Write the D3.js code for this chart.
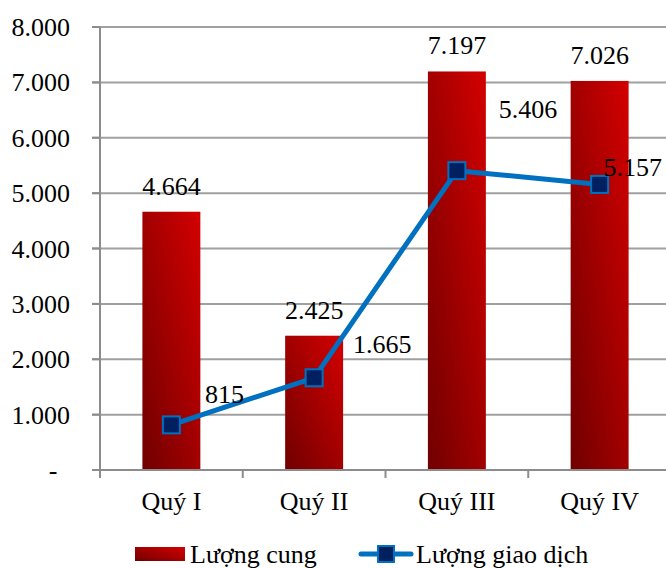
<!DOCTYPE html>
<html><head><meta charset="utf-8">
<script src="https://cdn.jsdelivr.net/npm/d3@7"></script>
<style>body{margin:0;background:#fff}svg{display:block}text{font-family:"Liberation Serif","Times New Roman",serif;fill:#000}</style>
</head><body>
<svg id="c" width="666" height="568"></svg>
<script>
const categories = ["Quý I", "Quý II", "Quý III", "Quý IV"];
const supply = [4664, 2425, 7197, 7026];
const transactions = [815, 1665, 5406, 5157];
const yTicks = [0, 1000, 2000, 3000, 4000, 5000, 6000, 7000, 8000];
const seriesNames = ["Lượng cung", "Lượng giao dịch"];
// label offsets for line values (style, not data)
const lineLabelOffsets = [[53, -22], [68, -25], [71, -53], [33, -8]];

const fmt = v => v === 0 ? "-" : d3.format(",")(v).replace(/,/g, ".");
const svg = d3.select("#c");
const defs = svg.append("defs");
const g1 = defs.append("linearGradient").attr("id", "barGrad")
  .attr("x1", "0").attr("y1", "1").attr("x2", "1").attr("y2", "0");
g1.append("stop").attr("offset", "0").attr("stop-color", "#700000");
g1.append("stop").attr("offset", "1").attr("stop-color", "#d40000");

const L = 100, R = 671, T = 27, B = 470;
const x = d3.scaleBand().domain(categories).range([L, R]).padding(0);
const y = d3.scaleLinear().domain([0, 8000]).range([B, T]);
const barW = x.bandwidth() * 0.406;
const fs = 26;

// gridlines
svg.append("g").selectAll("line").data(yTicks.filter(d => d > 0)).join("line")
  .attr("x1", 92).attr("x2", 666).attr("y1", d => y(d)).attr("y2", d => y(d))
  .attr("stroke", "#a0a0a0").attr("stroke-width", 2);

// y axis labels
svg.append("g").selectAll("text").data(yTicks).join("text")
  .attr("x", d => d === 0 ? 53 : 70).attr("y", d => y(d) + 9)
  .attr("text-anchor", d => d === 0 ? "middle" : "end")
  .attr("font-size", fs).text(fmt);

// bars
svg.append("g").selectAll("rect").data(supply).join("rect")
  .attr("x", (d, i) => x(categories[i]) + x.bandwidth() / 2 - barW / 2)
  .attr("width", barW)
  .attr("y", d => y(d)).attr("height", d => y(0) - y(d))
  .attr("fill", "url(#barGrad)");

// axes lines
svg.append("line").attr("x1", L).attr("x2", L).attr("y1", T).attr("y2", B + 8)
  .attr("stroke", "#8c8c8c").attr("stroke-width", 2);
svg.append("line").attr("x1", 92).attr("x2", 666).attr("y1", B).attr("y2", B)
  .attr("stroke", "#8c8c8c").attr("stroke-width", 2);
// y-axis tick marks
svg.append("g").selectAll("line").data(yTicks).join("line")
  .attr("x1", 92).attr("x2", L).attr("y1", d => y(d)).attr("y2", d => y(d))
  .attr("stroke", "#8c8c8c").attr("stroke-width", 2);
// x tick marks
svg.append("g").selectAll("line").data(categories.slice(1)).join("line")
  .attr("x1", d => x(d)).attr("x2", d => x(d)).attr("y1", B).attr("y2", B + 8)
  .attr("stroke", "#8c8c8c").attr("stroke-width", 2);

// x labels
svg.append("g").selectAll("text").data(categories).join("text")
  .attr("x", d => x(d) + x.bandwidth() / 2).attr("y", 510)
  .attr("text-anchor", "middle").attr("font-size", fs).text(d => d);

// bar labels
svg.append("g").selectAll("text").data(supply).join("text")
  .attr("x", (d, i) => x(categories[i]) + x.bandwidth() / 2)
  .attr("y", d => y(d) - 17)
  .attr("text-anchor", "middle").attr("font-size", fs).text(fmt);

// line
const cx = i => x(categories[i]) + x.bandwidth() / 2;
const line = d3.line().x((d, i) => cx(i)).y(d => y(d));
svg.append("path").datum(transactions).attr("d", line)
  .attr("fill", "none").attr("stroke", "#0070c0").attr("stroke-width", 5)
  .attr("stroke-linejoin", "round");
const ms = 17;
svg.append("g").selectAll("rect").data(transactions).join("rect")
  .attr("x", (d, i) => cx(i) - ms / 2).attr("y", d => y(d) - ms / 2)
  .attr("width", ms).attr("height", ms)
  .attr("fill", "#002060").attr("stroke", "#0070c0").attr("stroke-width", 2);

// line labels
svg.append("g").selectAll("text").data(transactions).join("text")
  .attr("x", (d, i) => cx(i) + lineLabelOffsets[i][0])
  .attr("y", (d, i) => y(d) + lineLabelOffsets[i][1])
  .attr("text-anchor", "middle").attr("font-size", fs).text(fmt);

// legend
const lg = svg.append("g");
lg.append("rect").attr("x", 135).attr("y", 547).attr("width", 50).attr("height", 14)
  .attr("fill", "url(#barGrad)");
lg.append("text").attr("x", 190).attr("y", 563).attr("font-size", fs).text(seriesNames[0]);
lg.append("line").attr("x1", 361).attr("x2", 411).attr("y1", 554).attr("y2", 554)
  .attr("stroke", "#0070c0").attr("stroke-width", 5).attr("stroke-linecap", "round");
lg.append("rect").attr("x", 378).attr("y", 546).attr("width", 16).attr("height", 16)
  .attr("fill", "#002060").attr("stroke", "#0070c0").attr("stroke-width", 2);
lg.append("text").attr("x", 416).attr("y", 563).attr("font-size", fs).text(seriesNames[1]);
</script>
</body></html>
